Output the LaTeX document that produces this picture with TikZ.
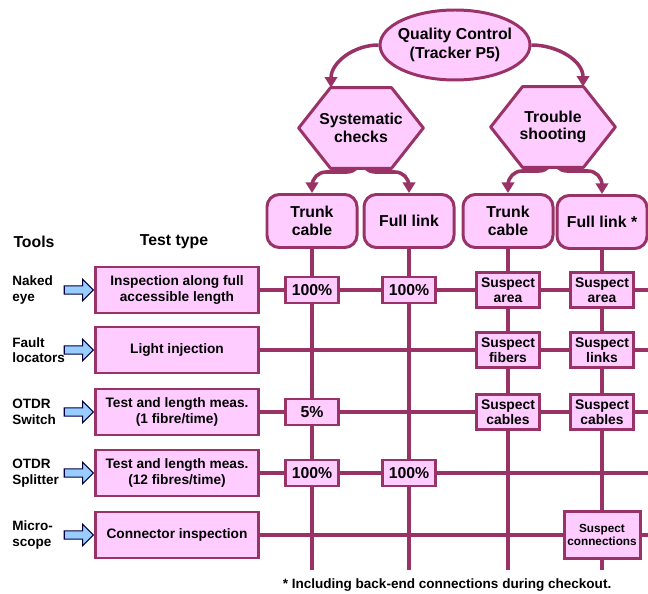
\documentclass[tikz,border=0pt]{standalone}
\usepackage{fontspec}
\setmainfont{Liberation Sans}
\usetikzlibrary{shapes.geometric,shapes.arrows,positioning,arrows.meta,backgrounds}
\definecolor{plum}{HTML}{993366}
\definecolor{pinkfill}{HTML}{FFCCFF}
\definecolor{skyfill}{HTML}{99CCFF}
\newcommand{\pxu}{0.02cm}

\begin{document}
\begin{tikzpicture}[x=\pxu, y=-\pxu,
box/.style = {draw=plum, line width=1.7pt, fill=pinkfill, align=center, inner sep=1pt},
qcbox/.style = {box, ellipse, inner xsep=-2.5pt, inner ysep=0pt, minimum width=150*\pxu, minimum height=70*\pxu, font=\fontsize{9}{10.4}\selectfont\bfseries},
hexbox/.style = {align=center, inner sep=0pt, minimum width=124*\pxu, minimum height=80*\pxu, font=\fontsize{9}{10}\selectfont\bfseries},
hexline/.style = {draw=plum, line width=1.7pt, fill=pinkfill, line join=round},
headbox/.style = {box, rounded corners=7pt, minimum width=90*\pxu, minimum height=53*\pxu, font=\fontsize{9}{10.3}\selectfont\bfseries},
testbox/.style = {box, minimum width=163*\pxu, minimum height=46*\pxu, font=\fontsize{7.8}{9}\selectfont\bfseries},
cell/.style = {box, minimum width=53*\pxu, minimum height=26*\pxu, font=\fontsize{9}{10}\selectfont\bfseries},
suspect/.style = {box, minimum width=63*\pxu, minimum height=35*\pxu, font=\fontsize{7.9}{8.6}\selectfont\bfseries},
tool/.style = {align=left, inner sep=0pt, anchor=west, font=\fontsize{7.7}{8.8}\selectfont\bfseries},
title/.style = {inner sep=0pt, font=\fontsize{9}{10}\selectfont\bfseries},
toolarrow/.style = {single arrow, draw=black!75!blue, fill=skyfill, line width=0.6pt, minimum height=29*\pxu, inner sep=2pt, single arrow head extend=3.8pt},
conn/.style = {draw=plum, line width=2pt},
branch/.style = {conn, -{Triangle[length=6pt,width=7pt]}},
]
\useasboundingbox (0,0) rectangle (648,594);

% Draw top of the tree
\node[qcbox] (qc) at (455,45) {Quality Control\\(Tracker P5)};
\node[hexbox] (sys) at (361,128) {Systematic\\checks};
\node[hexbox] (ts) at (553,127) {Trouble\\shooting};

\node[headbox] (tc1) at (312,221) {Trunk\\cable};
\node[headbox] (fl1) at (409,221) {Full link};
\node[headbox] (tc2) at (508,221) {Trunk\\cable};
\node[headbox] (fl2) at (602,222) {Full link *};

% Draw tools and test types
\node[title] (tools) at (34,242) {Tools};
\node[title] (ttype) at (174,242) {Test type};

\node[testbox] (t1) at (177,290) {Inspection along full\\accessible length};
\node[testbox] (t2) at (177,350) {Light injection};
\node[testbox] (t3) at (177,412) {Test and length meas.\\(1 fibre/time)};
\node[testbox] (t4) at (177,473) {Test and length meas.\\(12 fibres/time)};
\node[testbox] (t5) at (177,535) {Connector inspection};

\foreach \i/\name in {1/Naked\\eye, 2/Fault\\locators, 3/OTDR\\Switch, 4/OTDR\\Splitter, 5/Micro-\\scope}{
  \node[toolarrow, left=0pt of t\i] (a\i) {};
  \node[tool] (n\i) at (12,0 |- t\i) {\name};
}

% Draw results
\node[cell] (c11) at (tc1 |- t1) {100\%};
\node[cell] (c12) at (fl1 |- t1) {100\%};
\node[suspect] (c13) at (tc2 |- t1) {Suspect\\area};
\node[suspect] (c14) at (fl2 |- t1) {Suspect\\area};
\node[suspect] (c23) at (tc2 |- t2) {Suspect\\fibers};
\node[suspect] (c24) at (fl2 |- t2) {Suspect\\links};
\node[cell] (c31) at (tc1 |- t3) {5\%};
\node[suspect] (c33) at (tc2 |- t3) {Suspect\\cables};
\node[suspect] (c34) at (fl2 |- t3) {Suspect\\cables};
\node[cell] (c41) at (tc1 |- t4) {100\%};
\node[cell] (c42) at (fl1 |- t4) {100\%};
\node[suspect, minimum width=76*\pxu, minimum height=47*\pxu, font=\fontsize{6.7}{7.8}\selectfont\bfseries] (c54) at (fl2 |- t5) {Suspect\\connections};

\node[inner sep=0pt, font=\fontsize{7.7}{8}\selectfont\bfseries] (note) at (447,585) {* Including back-end connections during checkout.};

\coordinate (bot) at (0,570);
\coordinate (rgt) at (648,0);

% Draw edges
\begin{scope}[on background layer]
\draw[branch] (qc.west) to[out=180, in=90] ([xshift=-30*\pxu]sys.north);
\draw[branch] (qc.east) to[out=0, in=90] ([xshift=30*\pxu]ts.north);
\draw[branch, rounded corners=8pt] (sys.center) -- (sys.center |- 0,172) -| (tc1.north);
\draw[branch, rounded corners=8pt] (sys.center) -- (sys.center |- 0,172) -| (fl1.north);
\draw[branch, rounded corners=8pt] (ts.center) -- (ts.center |- 0,171) -| (tc2.north);
\draw[branch, rounded corners=8pt] (ts.center) -- (ts.center |- 0,171) -| (fl2.north);
\foreach \c in {tc1, fl1, tc2, fl2}
  \draw[conn] (\c.south) -- (\c.south |- bot);
\foreach \t in {t1, t2, t3, t4, t5}
  \draw[conn] (\t.east) -- (\t.east -| rgt);
% hexagons behind their text
\foreach \h in {sys, ts}
  \draw[hexline] (\h.west) -- ([xshift=-30.5*\pxu]\h.north) -- ([xshift=30.5*\pxu]\h.north)
    -- (\h.east) -- ([xshift=30.5*\pxu]\h.south) -- ([xshift=-30.5*\pxu]\h.south) -- cycle;
\end{scope}

\end{tikzpicture}
\end{document}
